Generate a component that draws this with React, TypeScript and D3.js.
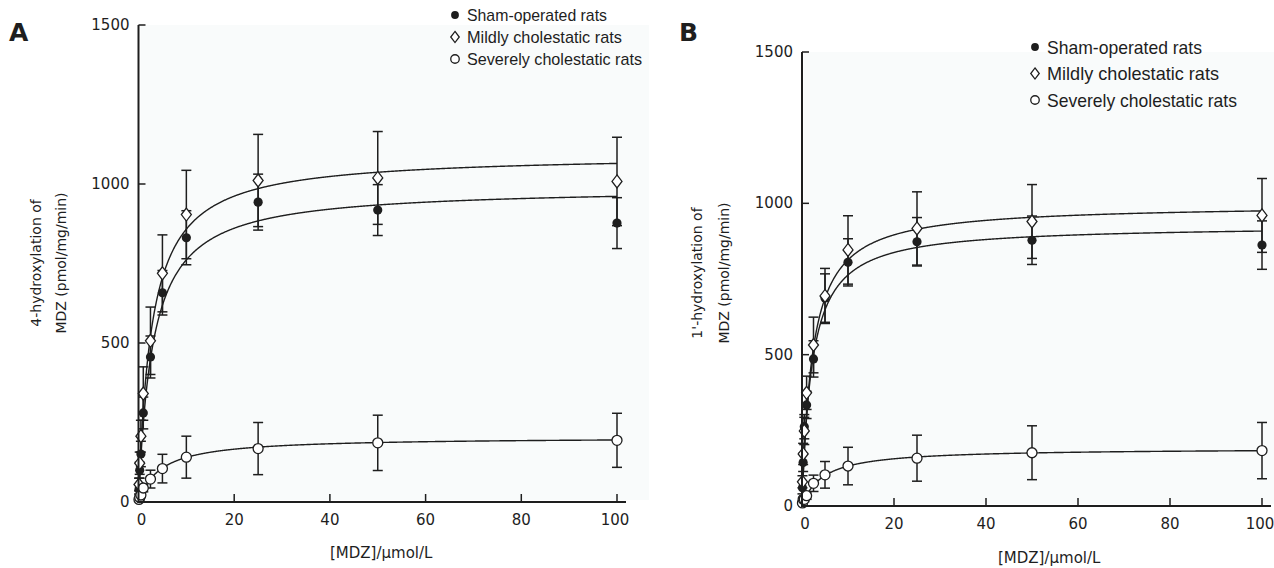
import * as d3 from "d3";

// substrate concentrations (µmol/L)
const conc = [0.1, 0.25, 0.5, 1, 2.5, 5, 10, 25, 50, 100];
const xTicks = [0, 20, 40, 60, 80, 100];
const yTicks = [0, 500, 1000, 1500];
const legendNames = ["Sham-operated rats", "Mildly cholestatic rats", "Severely cholestatic rats"];

// panel A: 4-hydroxylation
const shamA = [40, 100, 151, 280, 456, 658, 831, 943, 918, 877];
const shamASd = [15, 25, 40, 50, 66, 70, 85, 88, 80, 80];
const mildA = [55, 122, 207, 341, 507, 719, 904, 1011, 1019, 1008];
const mildASd = [20, 35, 50, 84, 106, 121, 139, 145, 146, 139];
const severeA = [8, 14, 22, 44, 72, 105, 141, 168, 186, 194];
const severeASd = [4, 6, 8, 12, 28, 45, 66, 82, 87, 85];
// Michaelis-Menten fits [Vmax, Km]
const fitA = { sham: [990, 3.0], mild: [1094, 2.75], severe: [204, 4.56] };

// panel B: 1'-hydroxylation
const shamB = [60, 144, 262, 334, 486, 687, 805, 873, 878, 862];
const shamBSd = [20, 30, 40, 45, 60, 80, 78, 80, 80, 80];
const mildB = [80, 172, 248, 374, 532, 694, 846, 917, 940, 960];
const mildBSd = [20, 35, 45, 55, 92, 91, 113, 121, 122, 122];
const severeB = [10, 22, 22, 34, 75, 103, 132, 158, 176, 183];
const severeBSd = [4, 6, 8, 12, 27, 44, 62, 76, 89, 93];
const fitB = { sham: [928, 2.16], mild: [997, 2.26], severe: [191, 4.49] };

const INK = "#1e1e1e";
const tickFont = "'DejaVu Sans', Verdana, sans-serif";
const legendFont = "'Liberation Sans Narrow', 'Arial Narrow', 'Liberation Sans', Arial, sans-serif";

function Marker({ kind, x, y, s = 1 }: { kind: string; x: number; y: number; s?: number }) {
  if (kind === "dot") return <circle cx={x} cy={y} r={4.6 * s} fill={INK} />;
  if (kind === "ring")
    return <circle cx={x} cy={y} r={5 * s} fill="#fff" stroke={INK} strokeWidth={1.3} />;
  const w = 5 * s, h = 6.5 * s;
  return (
    <path
      d={`M${x},${y - h}L${x + w},${y}L${x},${y + h}L${x - w},${y}Z`}
      fill="#fff"
      stroke={INK}
      strokeWidth={1.3}
    />
  );
}

function Panel(props: any) {
  const { xr, yr, series, letter, letterX, yLabel, yLabX, yLabY, yLabGap, xLabX, xLabY, legX, legY, legGap, legSize, legW } = props;
  const x = d3.scaleLinear().domain([0, 100]).range(xr);
  const y = d3.scaleLinear().domain([0, 1500]).range(yr);
  const samples = d3.range(0, 100.001, 0.1);
  return (
    <g>
      <rect x={xr[0] + 2} y={yr[1]} width={xr[1] - xr[0] + 30} height={yr[0] - yr[1] - 2} fill="#f9fbfb" />
      {/* fitted curves */}
      {series.map((s: any) => {
        const [vmax, km] = s.fit;
        const l = d3
          .line<number>()
          .x((c) => x(c))
          .y((c) => y((vmax * c) / (km + c)));
        return <path key={s.kind + "f"} d={l(samples) || ""} fill="none" stroke={INK} strokeWidth={1.4} />;
      })}
      {/* error bars */}
      {series.map((s: any) =>
        conc.map((c, i) => {
          const cx = x(c);
          const top = y(s.mean[i] + s.sd[i]);
          const bot = y(Math.max(0, s.mean[i] - s.sd[i]));
          return (
            <g key={s.kind + "e" + i} stroke={INK} strokeWidth={1.5}>
              <line x1={cx} x2={cx} y1={top} y2={bot} />
              <line x1={cx - 5} x2={cx + 5} y1={top} y2={top} />
              <line x1={cx - 5} x2={cx + 5} y1={bot} y2={bot} />
            </g>
          );
        })
      )}
      {series.map((s: any) =>
        conc.map((c, i) => <Marker key={s.kind + "m" + i} kind={s.kind} x={x(c)} y={y(s.mean[i])} />)
      )}
      {/* axes */}
      <line x1={xr[0]} x2={xr[0]} y1={yr[0] + 1} y2={yr[1]} stroke={INK} strokeWidth={2} />
      <line x1={xr[0] - 1} x2={xr[1] + 9} y1={yr[0]} y2={yr[0]} stroke={INK} strokeWidth={2.2} />
      {yTicks.map((t) => (
        <g key={"yt" + t}>
          {t > 0 && <line x1={xr[0]} x2={xr[0] + 7} y1={y(t)} y2={y(t)} stroke={INK} strokeWidth={1.5} />}
          <text x={xr[0] - 9} y={y(t) + 5} textAnchor="end" fontFamily={tickFont} fontSize={15} fill={INK}>
            {t}
          </text>
        </g>
      ))}
      {xTicks.map((t) => (
        <g key={"xt" + t}>
          {t > 0 && <line x1={x(t)} x2={x(t)} y1={yr[0]} y2={yr[0] - 8} stroke={INK} strokeWidth={1.5} />}
          <text
            x={x(t) + (t === 0 ? 3 : t === 100 ? -2 : 0)}
            y={yr[0] + 23}
            textAnchor="middle"
            fontFamily={tickFont}
            fontSize={15}
            fill={INK}
          >
            {t}
          </text>
        </g>
      ))}
      <text x={xLabX} y={xLabY} fontFamily={tickFont} fontSize={15} fill={INK}>
        [MDZ]/μmol/L
      </text>
      <g transform={`translate(${yLabX},${yLabY}) rotate(-90)`}>
        <text x={0} y={0} textAnchor="middle" fontFamily={tickFont} fontSize={14} fill={INK}>
          {yLabel[0]}
        </text>
        <text x={0} y={yLabGap} textAnchor="middle" fontFamily={tickFont} fontSize={14} fill={INK}>
          {yLabel[1]}
        </text>
      </g>
      <text x={letterX} y={41} fontFamily={tickFont} fontWeight="bold" fontSize={25} fill={INK}>
        {letter}
      </text>
      {/* legend */}
      {series.map((s: any, i: number) => (
        <g key={"lg" + i}>
          <Marker kind={s.kind} x={legX} y={legY + i * legGap} s={0.85} />
          <text
            x={legX + 12}
            y={legY + i * legGap + legSize * 0.36}
            fontFamily={legendFont}
            fontSize={legSize}
            fill={INK}
            textLength={legW[i]}
            lengthAdjust="spacingAndGlyphs"
          >
            {legendNames[i]}
          </text>
        </g>
      ))}
    </g>
  );
}

export default function App() {
  const seriesA = [
    { kind: "dot", mean: shamA, sd: shamASd, fit: fitA.sham },
    { kind: "diamond", mean: mildA, sd: mildASd, fit: fitA.mild },
    { kind: "ring", mean: severeA, sd: severeASd, fit: fitA.severe },
  ];
  const seriesB = [
    { kind: "dot", mean: shamB, sd: shamBSd, fit: fitB.sham },
    { kind: "diamond", mean: mildB, sd: mildBSd, fit: fitB.mild },
    { kind: "ring", mean: severeB, sd: severeBSd, fit: fitB.severe },
  ];
  return (
    <svg
      width={1274}
      height={568}
      style={{ position: "absolute", left: 0, top: 0, background: "#fff" }}
    >
      <Panel
        xr={[138.5, 617]}
        yr={[502, 25]}
        series={seriesA}
        letter="A"
        letterX={9}
        yLabel={["4-hydroxylation of", "MDZ (pmol/mg/min)"]}
        yLabX={41}
        yLabY={263}
        yLabGap={25}
        xLabX={330}
        xLabY={558}
        legX={455}
        legY={15}
        legGap={22}
        legSize={17}
        legW={[140, 155, 175]}
      />
      <Panel
        xr={[802, 1262]}
        yr={[506, 52]}
        series={seriesB}
        letter="B"
        letterX={679}
        yLabel={["1'-hydroxylation of", "MDZ (pmol/mg/min)"]}
        yLabX={702}
        yLabY={273}
        yLabGap={27}
        xLabX={998}
        xLabY={563}
        legX={1035}
        legY={47}
        legGap={26.5}
        legSize={19}
        legW={[155, 172, 190]}
      />
    </svg>
  );
}
